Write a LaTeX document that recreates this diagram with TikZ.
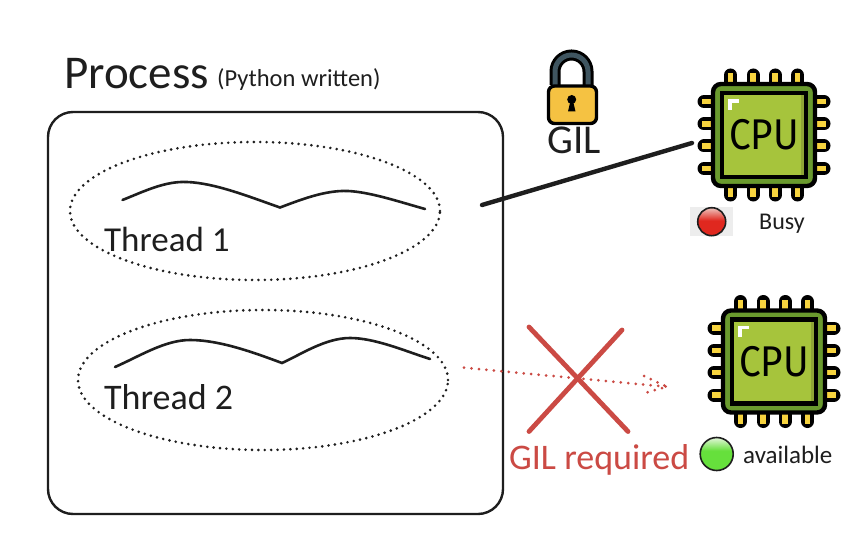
\documentclass[tikz,border=0pt]{standalone}
\usepackage{fontspec}
\setmainfont{Carlito}
\newfontfamily\chipfont{Fira Sans}
\usetikzlibrary{calc,positioning,shapes.geometric}
\definecolor{inkc}{HTML}{1E1E1E}
\definecolor{redc}{HTML}{CB4A44}
\definecolor{chipdark}{HTML}{6A9A2E}
\definecolor{chiplight}{HTML}{A6C43C}
\definecolor{chipedge}{HTML}{8EA536}
\definecolor{pinc}{HTML}{F7D43F}
\definecolor{lockc}{HTML}{F5C242}
\definecolor{slatec}{HTML}{3F5560}
\definecolor{lampred}{HTML}{E0281F}
\definecolor{lampredtop}{HTML}{EDB7B0}
\definecolor{lampgreen}{HTML}{66E03C}
\definecolor{lampgreentop}{HTML}{DDF5D2}
\pgfdeclareverticalshading{redlamp}{100bp}{color(0bp)=(lampred); color(52bp)=(lampred); color(73bp)=(lampredtop); color(100bp)=(lampredtop)}
\pgfdeclareverticalshading{greenlamp}{100bp}{color(0bp)=(lampgreen); color(55bp)=(lampgreen); color(74bp)=(lampgreentop); color(100bp)=(lampgreentop)}
\tikzset{
  label/.style={inner sep=0pt,text=inkc},
  threadloop/.style={ellipse,draw=inkc,line width=2.9pt,line cap=round,dash pattern=on 0pt off 6.4pt},
  wave/.style={draw=inkc,line width=2.6pt,line cap=round},
  gildots/.style={draw=redc,line width=3pt,line cap=round,dash pattern=on 0pt off 7.5pt},
  crossline/.style={draw=redc,line width=4.8pt,line cap=round},
  lamp/.style={circle,draw=inkc,line width=1.6pt,minimum size=#1,inner sep=0pt},
  cpu/.pic={
    \foreach \p in {-33.5,-11,11,33.5} {
      \draw[line width=13pt,line cap=round,black] (\p,-50) -- (\p,-60);
      \draw[line width=13pt,line cap=round,black] (\p,50) -- (\p,60);
      \draw[line width=13pt,line cap=round,black] (-50,\p) -- (-60,\p);
      \draw[line width=13pt,line cap=round,black] (50,\p) -- (60,\p);
      \draw[line width=5.5pt,pinc] (\p,-50) -- (\p,-62);
      \draw[line width=5.5pt,pinc] (\p,50) -- (\p,62);
      \draw[line width=5.5pt,pinc] (-50,\p) -- (-62,\p);
      \draw[line width=5.5pt,pinc] (50,\p) -- (62,\p);
    }
    \draw[line width=4.4pt,black,fill=chipdark,rounded corners=8pt] (-51,-51) rectangle (51,51);
    \fill[chiplight] (-42,-42) rectangle (42,42);
    \fill[chipedge] (37,-42) rectangle (42,42);
    \draw[line width=4.6pt,black] (-42,-42) rectangle (42,42);
    \draw[line width=3.6pt,white] (-34,-25) -- (-34,-34) -- (-25,-34);
    \node[xscale=.9,inner sep=0pt,text=black] at (0,0) {\chipfont\fontsize{43}{43}\selectfont CPU};
  }
}
\begin{document}
\begin{tikzpicture}[x=1pt,y=-1pt]
  \fill[white] (0,0) rectangle (866,540);
  \useasboundingbox (0,0) rectangle (866,540);

  % process box and threads
  \draw[inkc,line width=2.4pt,rounded corners=25pt] (48,112) rectangle (503,514);
  \node[label,anchor=west] (processtitle) at (64,74) {\fontsize{47}{47}\selectfont Process};
  \node[label,anchor=west] (processnote) at (217,80) {\fontsize{24.5}{24.5}\selectfont (Python written)};

  \node[threadloop,minimum width=370pt,minimum height=138pt] (thread1) at (255,211) {};
  \node[threadloop,minimum width=370pt,minimum height=140pt] (thread2) at (263,380) {};
  \draw[wave] (122.5,200) .. controls (145,191) and (165,181) .. (187,182)
    .. controls (215,183) and (250,197) .. (280,207.5)
    .. controls (300,200) and (325,190) .. (348,191)
    .. controls (370,192) and (400,202) .. (425,209);
  \draw[wave] (115,367) .. controls (140,356) and (165,340) .. (190,340)
    .. controls (220,340) and (255,353) .. (282,363)
    .. controls (300,355) and (325,338) .. (350,338)
    .. controls (375,338) and (405,351) .. (430,359);
  \node[label,anchor=west] (thread1text) at (104,239) {\fontsize{35}{35}\selectfont Thread 1};
  \node[label,anchor=west] (thread2text) at (104,397) {\fontsize{36}{36}\selectfont Thread 2};

  % lock
  \draw[black,line width=11pt] (555,85) -- (555,71.5) arc (180:360:16.5) -- (588,85);
  \draw[slatec,line width=5pt] (555,85) -- (555,71.5) arc (180:360:16.5) -- (588,85);
  \draw[black,line width=3.4pt,fill=lockc,rounded corners=6pt] (548.5,86) rectangle (596.5,123.5);
  \fill[black] (568,111.5) -- (570,103) -- (573.5,103) -- (575.5,111.5) -- cycle;
  \fill[black] (571.7,99.5) circle (4.5pt);
  \node[label] (giltext) at (574.5,140) {\fontsize{41}{41}\selectfont GIL};

  % cpus
  \pic at (764,135) {cpu};
  \pic at (774,361.5) {cpu};

  % busy cpu link
  \coordinate (busyfrom) at (482,205);
  \coordinate (busyto) at (692,143);
  \draw[inkc,line width=4.4pt,line cap=round] (busyfrom) -- (busyto);
  \fill[black!7] (690,207) rectangle (733,236);
  \node[lamp=28pt,shading=redlamp] (busylamp) at (711.7,221.7) {};
  \node[label,anchor=west] (busytext) at (759,224) {\fontsize{24}{24}\selectfont Busy};

  % blocked thread
  \coordinate (waitfrom) at (464,367.7);
  \coordinate (waitto) at (666.7,386.7);
  \coordinate (waitheada) at (644,376);
  \coordinate (waitheadb) at (641.7,394);
  \draw[gildots] (waitfrom) -- (waitto);
  \draw[gildots] (waitheada) -- (waitto) -- (waitheadb);
  \coordinate (crossa) at (529,327);
  \coordinate (crossb) at (628,431.5);
  \coordinate (crossc) at (622,330);
  \coordinate (crossd) at (529,431.5);
  \draw[crossline] (crossa) -- (crossb);
  \draw[crossline] (crossc) -- (crossd);
  \node[label,anchor=west,text=redc] (requiredtext) at (509,460) {\fontsize{36}{36}\selectfont GIL required};
  \node[lamp=33pt,shading=greenlamp] (freelamp) at (716.7,454) {};
  \node[label,anchor=west] (freetext) at (743,455) {\fontsize{25}{25}\selectfont available};
\end{tikzpicture}
\end{document}
